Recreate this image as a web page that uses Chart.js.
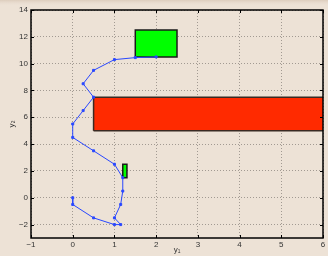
<!DOCTYPE html>
<html>
<head>
<meta charset="utf-8">
<script src="https://cdn.jsdelivr.net/npm/chart.js@4"></script>
<style>
    html, body { margin: 0; padding: 0; background: #ede2d6; }
    #wrap { width: 328px; height: 256px; }
</style>
</head>
<body>
<div id="wrap"><canvas id="chart" width="328" height="256"></canvas></div>
<script>
// Trajectory (y1, y2)
const pathX = [0, 0, 0.5, 1, 1.15, 1, 1.15, 1.2, 1.2, 1, 0.5, 0, 0, 0.25, 0.5, 0.25, 0.5, 1, 1.5, 2];
const pathY = [0, -0.5, -1.5, -2, -2, -1.5, -0.5, 0.5, 1.5, 2.5, 3.5, 4.5, 5.5, 6.5, 7.5, 8.5, 9.5, 10.3, 10.45, 10.5];

// Rectangles: [xmin, xmax, ymin, ymax]
const redBox = [0.5, 6.2, 5, 7.5];
const greenBox = [1.5, 2.5, 10.5, 12.5];
const smallGreenBox = [1.2, 1.3, 1.5, 2.5];

// Axis ranges and ticks
const xTicks = [-1, 0, 1, 2, 3, 4, 5, 6];
const yTicks = [-2, 0, 2, 4, 6, 8, 10, 12, 14];
const xRange = [-1, 6];
const yRange = [-3, 14];

function boxPoints(b) {
    return [
        { x: b[0], y: b[2] }, { x: b[1], y: b[2] },
        { x: b[1], y: b[3] }, { x: b[0], y: b[3] },
        { x: b[0], y: b[2] }
    ];
}

function boxDataset(b, color, edge) {
    return {
        data: boxPoints(b),
        showLine: true,
        fill: 'shape',
        backgroundColor: color,
        borderColor: edge,
        borderWidth: 1.5,
        pointRadius: 0,
        tension: 0
    };
}

const path = pathX.map((x, i) => ({ x: x, y: pathY[i] }));

// Background, frame and inward tick marks like the original figure
const framePlugin = {
    id: 'frame',
    beforeDraw(chart) {
        const ctx = chart.ctx;
        ctx.save();
        ctx.fillStyle = '#ede2d6';
        ctx.fillRect(0, 0, chart.width, chart.height);
        const g = ctx.createLinearGradient(0, 0, 0, 6);
        g.addColorStop(0, '#ddcdbd');
        g.addColorStop(1, 'rgba(237,226,214,0)');
        ctx.fillStyle = g;
        ctx.fillRect(0, 0, chart.width, 6);
        ctx.restore();
    },
    afterDraw(chart) {
        const ctx = chart.ctx;
        const a = chart.chartArea;
        const xs = chart.scales.x;
        const ys = chart.scales.y;
        ctx.save();
        ctx.strokeStyle = '#000';
        ctx.lineWidth = 1;
        ctx.beginPath();
        xTicks.forEach(t => {
            const px = Math.round(xs.getPixelForValue(t)) + 0.5;
            ctx.moveTo(px, a.bottom); ctx.lineTo(px, a.bottom - 3);
            ctx.moveTo(px, a.top); ctx.lineTo(px, a.top + 3);
        });
        yTicks.forEach(t => {
            const py = Math.round(ys.getPixelForValue(t)) + 0.5;
            ctx.moveTo(a.left, py); ctx.lineTo(a.left + 3, py);
            ctx.moveTo(a.right, py); ctx.lineTo(a.right - 3, py);
        });
        ctx.stroke();
        ctx.lineWidth = 1.5;
        ctx.strokeRect(a.left, a.top, a.right - a.left, a.bottom - a.top);
        ctx.restore();
    }
};

const ctx = document.getElementById('chart').getContext('2d');
new Chart(ctx, {
    type: 'scatter',
    data: {
        datasets: [
            {
                data: path,
                showLine: true,
                borderColor: '#2a48ff',
                backgroundColor: '#2a48ff',
                borderWidth: 1,
                pointStyle: 'rect',
                pointRadius: 1.4,
                tension: 0
            },
            boxDataset(smallGreenBox, '#00ff00', '#1a1a1a'),
            boxDataset(greenBox, '#00ff00', '#1a1a1a'),
            boxDataset(redBox, '#ff2a00', '#3a2a22')
        ]
    },
    options: {
        responsive: false,
        animation: false,
        layout: { padding: { top: 10, right: 1, left: 0, bottom: 0 } },
        plugins: {
            legend: { display: false },
            tooltip: { enabled: false }
        },
        scales: {
            x: {
                type: 'linear',
                min: xRange[0],
                max: xRange[1],
                afterBuildTicks: axis => { axis.ticks = xTicks.map(v => ({ value: v })); },
                afterFit: axis => { axis.height = 18; },
                ticks: {
                    padding: 2,
                    color: '#333',
                    font: { family: 'Liberation Sans', size: 8 },
                    callback: v => v < 0 ? '\u2212' + Math.abs(v) : v
                },
                grid: { color: '#a29a92', lineWidth: 1, drawTicks: false },
                border: { display: false, dash: [1, 2] },
                title: {
                    display: true,
                    text: 'y\u2081',
                    color: '#333',
                    font: { family: 'Liberation Sans', size: 8 },
                    padding: { top: 0, bottom: 1 }
                }
            },
            y: {
                type: 'linear',
                min: yRange[0],
                max: yRange[1],
                afterBuildTicks: axis => { axis.ticks = yTicks.map(v => ({ value: v })); },
                afterFit: axis => { axis.width = 31; },
                ticks: {
                    padding: 3,
                    color: '#333',
                    font: { family: 'Liberation Sans', size: 8 },
                    callback: v => v < 0 ? '\u2212' + Math.abs(v) : v
                },
                grid: { color: '#a29a92', lineWidth: 1, drawTicks: false },
                border: { display: false, dash: [1, 2] },
                title: {
                    display: true,
                    text: 'y\u2082',
                    color: '#333',
                    font: { family: 'Liberation Sans', size: 8 },
                    padding: { top: 7, bottom: 0 }
                }
            }
        }
    },
    plugins: [framePlugin]
});
</script>
</body>
</html>
